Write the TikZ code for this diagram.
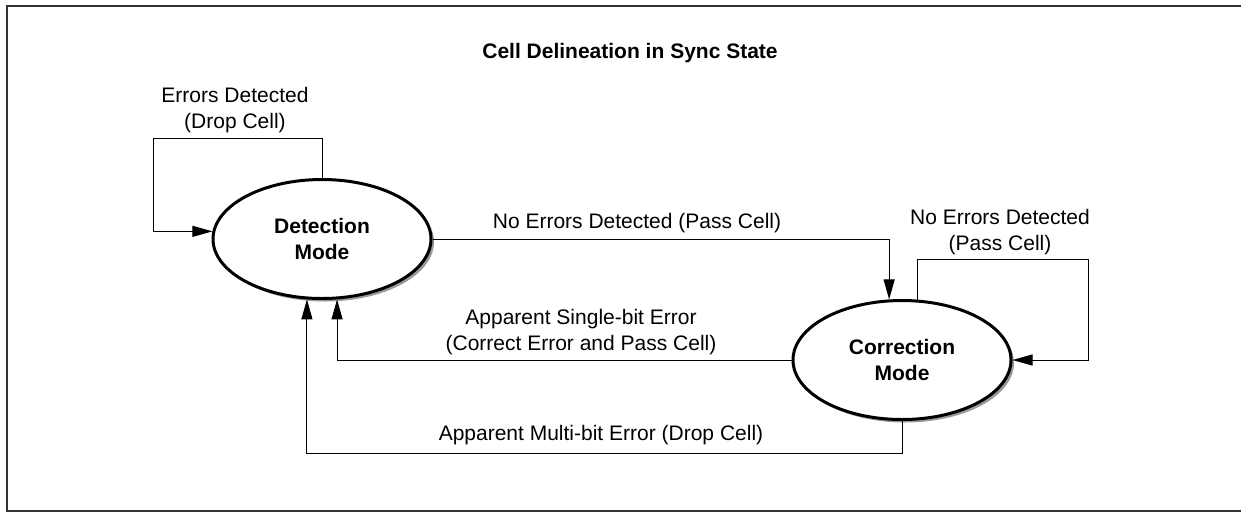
\documentclass[tikz,border=0pt]{standalone}
\usepackage{fontspec}
\setmainfont{Liberation Sans}
\usepackage{tikz}
\usetikzlibrary{shapes,shadows,arrows.meta}
\tikzset{mode/.style={ellipse,draw,line width=1.5pt,minimum width=109pt,minimum height=59.5pt,inner sep=0pt,
    align=center,font=\bfseries,fill=white,
    drop shadow={shadow xshift=1.5pt,shadow yshift=-1.5pt,fill=black!40,opacity=1}}}
\tikzset{lbl/.style={align=center,inner sep=1pt}}

\begin{document}
\fontsize{10.5}{12.6}\selectfont
\begin{tikzpicture}[>={Triangle[length=10pt,width=5.5pt]},x=0.5pt,y=-0.5pt,line width=0.5pt]
        \useasboundingbox (0,0) rectangle (1241,516);
        \draw[black!80,line width=1pt] (7,6) rectangle (1245,511);

        \node[font=\bfseries] (title) at (630,53) {Cell Delineation in Sync State};

        \node[mode] (det) at (322,239) {Detection\\Mode};
        \node[mode] (cor) at (902,360) {Correction\\Mode};

        \node[lbl] (errdet) at (235,110) {Errors Detected\\(Drop Cell)};
        \node[lbl] (pass) at (637,223) {No Errors Detected (Pass Cell)};
        \node[lbl] (passloop) at (1000,232) {No Errors Detected\\(Pass Cell)};
        \node[lbl] (single) at (581,332) {Apparent Single-bit Error\\(Correct Error and Pass Cell)};
        \node[lbl] (multi) at (601,435) {Apparent Multi-bit Error (Drop Cell)};

        \draw [->] (det.north) |- (153,138) |- (det.176);
        \draw [->] (det.east) -| (cor.102);
        \draw [->] (cor.76) |- (1088,259) |- (cor.east);
        \draw [->] (cor.west) -| (det.-76);
        \draw [->] (cor.south) -- ++(0,32) -| (det.-104);
    \end{tikzpicture}
\end{document}
